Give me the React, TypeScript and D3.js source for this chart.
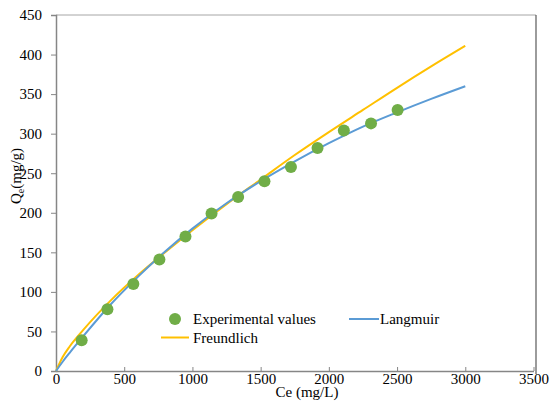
import React, { useEffect, useRef } from "react";
import * as d3 from "d3";

// experimental points (Ce mg/L, Qe mg/g)
const expCe = [188, 377, 567, 758, 949, 1140, 1335, 1528, 1722, 1917, 2110, 2309, 2504];
const expQe = [39, 78, 110, 141, 170, 199, 220, 240, 258, 282, 304, 313, 330];

// fitted curves
const fitCe = [0, 50, 100, 200, 400, 600, 800, 1000, 1250, 1500, 1750, 2000, 2250, 2500, 2750, 3000];
const langmuirQe = [0, 12, 23, 44, 84, 119, 151, 180, 212, 240, 265, 288, 309, 327, 344, 360];
const freundlichQe = [0, 18, 31, 52, 89, 121, 150, 178, 211, 242, 273, 302, 330, 358, 385, 411];

const xTicks = [0, 500, 1000, 1500, 2000, 2500, 3000, 3500];
const yTicks = [0, 50, 100, 150, 200, 250, 300, 350, 400, 450];

const GREEN = "#70ad47";
const BLUE = "#5b9bd5";
const ORANGE = "#ffc000";

const App = () => {
  const svgRef = useRef<SVGSVGElement>(null);

  useEffect(() => {
    const svg = d3.select(svgRef.current);
    svg.selectAll("*").remove();

    const x = d3.scaleLinear().domain([0, 3500]).range([56, 533.5]);
    const y = d3.scaleLinear().domain([0, 450]).range([371, 15]);

    // frame
    svg.append("line").attr("x1", 56).attr("x2", 536).attr("y1", 15).attr("y2", 15)
      .attr("stroke", "#a6a6a6").attr("stroke-width", 1);
    svg.append("line").attr("x1", 536).attr("x2", 536).attr("y1", 15).attr("y2", 374)
      .attr("stroke", "#595959").attr("stroke-width", 1.2);

    // y axis
    const gy = svg.append("g").attr("transform", "translate(56,0)")
      .call(d3.axisLeft(y).tickValues(yTicks).tickSize(5).tickPadding(9).tickFormat(d3.format("d")));
    gy.attr("font-family", null).attr("font-size", null);
    gy.select(".domain").attr("stroke", "#868686").attr("stroke-width", 1.5);
    gy.selectAll(".tick line").attr("stroke", "#868686");
    gy.selectAll(".tick text").attr("fill", "#000");

    // x axis (ticks pointing inward)
    const gx = svg.append("g").attr("transform", "translate(0,371)")
      .call(d3.axisBottom(x).tickValues(xTicks).tickSize(-4).tickPadding(4).tickSizeOuter(0)
        .tickFormat(d3.format("d")));
    gx.attr("font-family", null).attr("font-size", null);
    gx.select(".domain").attr("stroke", "#868686").attr("stroke-width", 1.5);
    gx.selectAll(".tick line").attr("stroke", "#868686");
    gx.selectAll(".tick text").attr("fill", "#000").attr("y", 2);

    // curves
    const line = d3.line<[number, number]>()
      .x(d => x(d[0]))
      .y(d => y(d[1]))
      .curve(d3.curveMonotoneX);

    svg.append("path")
      .datum(fitCe.map((c, i) => [c, freundlichQe[i]] as [number, number]))
      .attr("d", line).attr("fill", "none").attr("stroke", ORANGE).attr("stroke-width", 2);
    svg.append("path")
      .datum(fitCe.map((c, i) => [c, langmuirQe[i]] as [number, number]))
      .attr("d", line).attr("fill", "none").attr("stroke", BLUE).attr("stroke-width", 2);

    // experimental points
    svg.append("g").selectAll("circle")
      .data(expCe.map((c, i) => [c, expQe[i]]))
      .join("circle")
      .attr("cx", d => x(d[0]))
      .attr("cy", d => y(d[1]))
      .attr("r", 6)
      .attr("fill", GREEN);

    // axis titles
    svg.append("text").attr("x", 307).attr("y", 397).attr("text-anchor", "middle")
      .text("Ce (mg/L)");

    const yt = svg.append("text").attr("transform", "translate(21,176) rotate(-90)")
      .attr("text-anchor", "middle");
    yt.append("tspan").text("Q");
    yt.append("tspan").attr("font-size", 10).attr("dy", 3).text("e");
    yt.append("tspan").attr("dy", -3).text("(mg/g)");

    // legend
    const lg = svg.append("g");
    lg.append("circle").attr("cx", 175).attr("cy", 319).attr("r", 6).attr("fill", GREEN);
    lg.append("text").attr("x", 193).attr("y", 324).text("Experimental values");
    lg.append("line").attr("x1", 349).attr("x2", 379).attr("y1", 319).attr("y2", 319)
      .attr("stroke", BLUE).attr("stroke-width", 2);
    lg.append("text").attr("x", 380).attr("y", 324).text("Langmuir");
    lg.append("line").attr("x1", 161).attr("x2", 189).attr("y1", 337.5).attr("y2", 337.5)
      .attr("stroke", ORANGE).attr("stroke-width", 2);
    lg.append("text").attr("x", 193).attr("y", 343).text("Freundlich");
  }, []);

  return (
    <svg ref={svgRef} width={555} height={417}
      style={{
        position: "absolute", left: 0, top: 0, background: "#fff",
        fontFamily: "'Liberation Serif', 'Times New Roman', serif", fontSize: 15,
      }} />
  );
};

export default App;
